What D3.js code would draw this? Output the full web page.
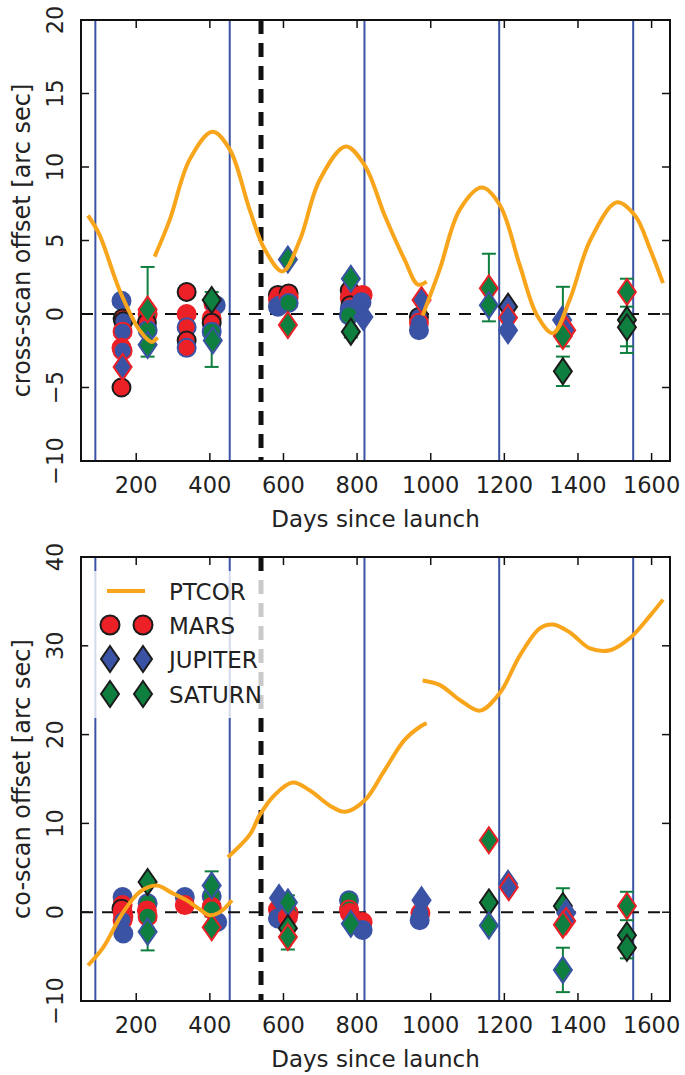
<!DOCTYPE html>
<html><head><meta charset="utf-8">
<script src="https://cdn.jsdelivr.net/npm/d3@7"></script>
<style>body{margin:0;background:#fff}svg{display:block}</style>
</head><body>
<script>
// ---------------- data ----------------
const xTicks = [200, 400, 600, 800, 1000, 1200, 1400, 1600];
const crossTicks = [-10, -5, 0, 5, 10, 15, 20];
const coTicks = [-10, 0, 10, 20, 30, 40];
const yearLines = [89, 454, 820, 1186, 1550];
const switchDay = 539;
const legendLabels = ["PTCOR", "MARS", "JUPITER", "SATURN"];

// PTCOR model curve segments [day, arcsec]
const crossPtcor = [
  [[69,6.7],[100,5.4],[155,1.6],[209,-1.1],[242,-1.9],[258,-1.6]],
  [[250,3.9],[291,6.4],[345,10.5],[407,12.4],[454,11.2],[508,7.1],[549,4.4],[598,2.9],[644,5.0],[698,9.1],[769,11.4],[821,10.1],[875,6.7],[929,3.7],[965,2.0],[989,2.2]],
  [[978,-0.1],[1024,3.0],[1079,7.1],[1139,8.6],[1188,7.4],[1242,3.3],[1289,-0.1],[1332,-1.3],[1378,1.0],[1433,5.0],[1506,7.6],[1555,6.7],[1596,4.4],[1631,2.1]]
];
const coPtcor = [
  [[69,-6.0],[110,-4.0],[163,-0.1],[210,2.3],[256,3.0],[300,2.1],[337,1.35],[370,0.4],[400,-0.35],[430,0.1],[460,1.35]],
  [[449,6.2],[508,8.7],[535,10.9],[576,13.2],[625,14.6],[672,13.7],[726,12.0],[767,11.3],[821,12.6],[875,16.0],[929,19.4],[975,21.0],[989,21.3]],
  [[978,26.1],[1024,25.6],[1079,23.9],[1134,22.7],[1188,24.7],[1242,28.9],[1297,32.0],[1332,32.4],[1378,31.5],[1433,29.7],[1487,29.5],[1542,30.9],[1596,33.4],[1631,35.2]]
];

// circle markers: [day, offset, face (M/J/S), edge (k/r/b)]
const crossCircles = [
  [160,0.9,"J","b"],[163,-0.3,"M","k"],[165,-0.5,"J","k"],[163,-1.2,"J","r"],[160,-2.3,"M","r"],[163,-2.5,"J","r"],[160,-5.0,"M","k"],
  [231,0.0,"S","r"],[229,-0.6,"M","k"],[231,-1.1,"S","b"],
  [337,1.5,"M","k"],[337,0.0,"M","r"],[337,-0.9,"M","b"],[337,-1.8,"M","k"],[337,-2.3,"M","b"],
  [410,0.7,"M","r"],[416,0.6,"J","b"],[405,-0.3,"M","r"],[405,-0.6,"M","k"],[405,-1.2,"S","b"],
  [585,1.3,"M","k"],[585,1.0,"M","r"],[588,0.7,"J","r"],[585,0.5,"J","b"],[614,1.4,"M","k"],[614,1.1,"M","r"],[614,0.75,"S","b"],
  [780,1.6,"M","k"],[780,1.1,"M","r"],[782,0.6,"M","k"],[780,0.3,"J","b"],[778,-0.1,"S","b"],[815,1.3,"M","r"],[812,0.8,"J","b"],
  [968,-0.2,"J","k"],[968,-0.6,"J","r"],[968,-1.1,"J","b"]
];
const crossDiamonds = [
  [163,-3.6,"J","r"],[231,0.3,"S","r"],[231,-2.1,"S","b"],[405,0.95,"S","k"],[408,-1.8,"S","b"],
  [612,3.7,"S","b"],[612,-0.75,"S","r"],[783,2.4,"S","b"],[783,-1.2,"S","k"],[817,-0.2,"J","b"],
  [975,0.95,"J","r"],[1158,1.75,"S","r"],[1158,0.6,"S","b"],[1210,0.5,"J","k"],[1210,-0.25,"J","r"],[1210,-1.1,"J","b"],
  [1357,-0.4,"J","b"],[1368,-1.1,"J","r"],[1359,-1.5,"S","r"],[1359,-3.9,"S","k"],
  [1533,1.5,"S","r"],[1533,-0.4,"S","k"],[1533,-0.9,"S","k"]
];
// error bars: [day, low, high]
const crossErrors = [
  [231,-2.9,3.2],[405,-3.6,1.5],[783,-1.6,1.0],[1158,-0.5,4.1],[1359,-2.2,1.85],[1359,-4.9,-2.9],[1533,-2.65,2.4],[1533,-2.2,0.5]
];

const coCircles = [
  [163,1.7,"J","b"],[163,0.8,"M","r"],[160,0.4,"M","k"],[163,0.1,"M","r"],[165,-0.5,"M","r"],[163,-0.9,"J","r"],[165,-2.4,"J","b"],
  [231,1.0,"S","b"],[229,0.2,"M","r"],[231,-0.5,"S","r"],
  [332,1.7,"J","b"],[332,0.8,"M","r"],
  [405,1.8,"S","b"],[405,0.6,"M","r"],[405,0.3,"S","r"],[420,-1.1,"J","b"],
  [585,0.3,"M","r"],[585,-0.7,"J","b"],[614,-0.1,"S","r"],[612,-0.6,"M","r"],
  [778,1.35,"S","b"],[778,0.3,"S","r"],[780,-0.1,"M","r"],[815,-1.1,"M","r"],[815,-2.0,"J","b"],
  [972,-0.1,"J","r"],[970,-0.9,"J","b"]
];
const coDiamonds = [
  [231,3.4,"S","k"],[231,-2.2,"S","b"],[405,3.0,"S","b"],[405,-1.7,"S","r"],
  [588,1.6,"J","b"],[612,1.1,"S","b"],[612,-1.8,"S","k"],[612,-2.8,"S","r"],[783,-1.3,"S","b"],
  [975,1.35,"J","b"],[1158,8.1,"S","r"],[1158,1.1,"S","k"],[1158,-1.5,"S","b"],
  [1210,3.2,"J","b"],[1212,2.8,"J","r"],
  [1359,0.7,"S","k"],[1368,-0.1,"J","b"],[1368,-1.0,"J","r"],[1359,-1.4,"S","r"],[1359,-6.5,"S","b"],
  [1533,0.7,"S","r"],[1533,-2.6,"S","k"],[1533,-4.0,"S","k"]
];
const coErrors = [
  [231,-4.3,3.4],[405,-0.5,4.6],[612,-4.2,1.9],[1359,-1.3,2.7],[1359,-9.0,-4.0],[1533,-0.9,2.3],[1533,-5.2,-2.8]
];

// ---------------- drawing ----------------
const W = 685, H = 1075;
const FONT = "DejaVu Sans, Liberation Sans, sans-serif";
const TEXT = "#222";
const faceColor = {M:"#ec2027", J:"#3b53a4", S:"#0e7f3e"};
const edgeColor = {k:"#1c1c1c", r:"#ec2027", b:"#3b53a4"};
const orange = "#f8a51b";
const diamondPath = "M0,-13L9,0L0,13L-9,0Z";

const svg = d3.select("body").append("svg").attr("width", W).attr("height", H);
const x = d3.scaleLinear().domain([50, 1650]).range([81, 670]);
const fmt = v => (v < 0 ? "\u2212" + Math.abs(v) : String(v));

const panels = [
  {top:20, bottom:461, dom:[-10,20], ticks:crossTicks, label:"cross-scan offset [arc sec]",
   ptcor:crossPtcor, circles:crossCircles, diamonds:crossDiamonds, errors:crossErrors, legend:false},
  {top:557, bottom:1001, dom:[-10,40], ticks:coTicks, label:"co-scan offset [arc sec]",
   ptcor:coPtcor, circles:coCircles, diamonds:coDiamonds, errors:coErrors, legend:true}
];

panels.forEach((p, pi) => {
  const y = d3.scaleLinear().domain(p.dom).range([p.bottom, p.top]);
  const g = svg.append("g");
  const clipId = "clip" + pi;
  svg.append("clipPath").attr("id", clipId).append("rect")
    .attr("x", 81).attr("y", p.top).attr("width", 589).attr("height", p.bottom - p.top);
  const plot = g.append("g").attr("clip-path", `url(#${clipId})`);

  plot.selectAll(".yl").data(yearLines).enter().append("line")
    .attr("x1", d => x(d)).attr("x2", d => x(d)).attr("y1", p.top).attr("y2", p.bottom)
    .attr("stroke", "#3b53a4").attr("stroke-width", 2);
  plot.append("line").attr("x1", x(50)).attr("x2", x(1650)).attr("y1", y(0)).attr("y2", y(0))
    .attr("stroke", "#111").attr("stroke-width", 2).attr("stroke-dasharray", "12,9");
  plot.append("line").attr("x1", x(switchDay)).attr("x2", x(switchDay)).attr("y1", p.top).attr("y2", p.bottom)
    .attr("stroke", "#111").attr("stroke-width", 5).attr("stroke-dasharray", "14,9");

  const eb = plot.selectAll(".eb").data(p.errors).enter().append("g");
  eb.append("line").attr("x1", d => x(d[0])).attr("x2", d => x(d[0])).attr("y1", d => y(d[1])).attr("y2", d => y(d[2]))
    .attr("stroke", "#0e7f3e").attr("stroke-width", 2);
  eb.append("line").attr("x1", d => x(d[0]) - 7).attr("x2", d => x(d[0]) + 7).attr("y1", d => y(d[1])).attr("y2", d => y(d[1]))
    .attr("stroke", "#0e7f3e").attr("stroke-width", 2);
  eb.append("line").attr("x1", d => x(d[0]) - 7).attr("x2", d => x(d[0]) + 7).attr("y1", d => y(d[2])).attr("y2", d => y(d[2]))
    .attr("stroke", "#0e7f3e").attr("stroke-width", 2);

  plot.selectAll(".c").data(p.circles).enter().append("circle")
    .attr("cx", d => x(d[0])).attr("cy", d => y(d[1])).attr("r", 9)
    .attr("fill", d => faceColor[d[2]]).attr("stroke", d => edgeColor[d[3]]).attr("stroke-width", 2);
  plot.selectAll(".d").data(p.diamonds).enter().append("path")
    .attr("d", diamondPath).attr("transform", d => `translate(${x(d[0])},${y(d[1])})`)
    .attr("fill", d => faceColor[d[2]]).attr("stroke", d => edgeColor[d[3]]).attr("stroke-width", 2);

  const line = d3.line().x(d => x(d[0])).y(d => y(d[1])).curve(d3.curveCatmullRom.alpha(0.5));
  plot.selectAll(".pt").data(p.ptcor).enter().append("path")
    .attr("d", line).attr("fill", "none").attr("stroke", orange).attr("stroke-width", 4);

  g.append("rect").attr("x", 81).attr("y", p.top).attr("width", 589).attr("height", p.bottom - p.top)
    .attr("fill", "none").attr("stroke", "#111").attr("stroke-width", 2);

  xTicks.forEach(t => {
    g.append("line").attr("x1", x(t)).attr("x2", x(t)).attr("y1", p.bottom).attr("y2", p.bottom - 8).attr("stroke", "#111").attr("stroke-width", 1.5);
    g.append("line").attr("x1", x(t)).attr("x2", x(t)).attr("y1", p.top).attr("y2", p.top + 8).attr("stroke", "#111").attr("stroke-width", 1.5);
  });
  g.selectAll(".xt").data(xTicks).enter().append("text")
    .attr("x", d => x(d)).attr("y", p.bottom + 32).attr("text-anchor", "middle")
    .attr("font-family", FONT).attr("font-size", 22.5).attr("fill", TEXT).text(d => d);
  g.append("text").attr("x", (81 + 670) / 2).attr("y", p.bottom + 66).attr("text-anchor", "middle")
    .attr("font-family", FONT).attr("font-size", 23).attr("fill", TEXT).text("Days since launch");

  p.ticks.forEach(t => {
    g.append("line").attr("x1", 81).attr("x2", 89).attr("y1", y(t)).attr("y2", y(t)).attr("stroke", "#111").attr("stroke-width", 1.5);
    g.append("line").attr("x1", 670).attr("x2", 662).attr("y1", y(t)).attr("y2", y(t)).attr("stroke", "#111").attr("stroke-width", 1.5);
  });
  g.selectAll(".yt").data(p.ticks).enter().append("text")
    .attr("transform", d => `translate(63,${y(d)}) rotate(-90)`).attr("text-anchor", "middle")
    .attr("font-family", FONT).attr("font-size", 22.5).attr("fill", TEXT).text(fmt);
  g.append("text").attr("transform", `translate(30,${(p.top + p.bottom) / 2}) rotate(-90)`).attr("text-anchor", "middle")
    .attr("font-family", FONT).attr("font-size", 24).attr("fill", TEXT).text(p.label);

  if (p.legend) {
    const lg = g.append("g");
    lg.append("rect").attr("x", 88).attr("y", 571).attr("width", 184).attr("height", 147)
      .attr("fill", "#fff").attr("fill-opacity", 0.78);
    const rows = [600, 634, 668, 703];
    lg.append("line").attr("x1", 107).attr("x2", 145).attr("y1", rows[0] - 9).attr("y2", rows[0] - 9)
      .attr("stroke", orange).attr("stroke-width", 4);
    const mk = [null, ["c","M"], ["d","J"], ["d","S"]];
    [1,2,3].forEach(i => {
      [110, 143].forEach(cx => {
        const cy = rows[i] - 9;
        if (mk[i][0] === "c") lg.append("circle").attr("cx", cx).attr("cy", cy).attr("r", 9.5)
          .attr("fill", faceColor[mk[i][1]]).attr("stroke", "#1c1c1c").attr("stroke-width", 2);
        else lg.append("path").attr("d", diamondPath).attr("transform", `translate(${cx},${cy})`)
          .attr("fill", faceColor[mk[i][1]]).attr("stroke", "#1c1c1c").attr("stroke-width", 2);
      });
    });
    lg.selectAll(".lt").data(legendLabels).enter().append("text")
      .attr("x", 169).attr("y", (d, i) => rows[i]).attr("font-family", FONT).attr("font-size", 23)
      .attr("fill", TEXT).text(d => d);
  }
});
</script>
</body></html>
